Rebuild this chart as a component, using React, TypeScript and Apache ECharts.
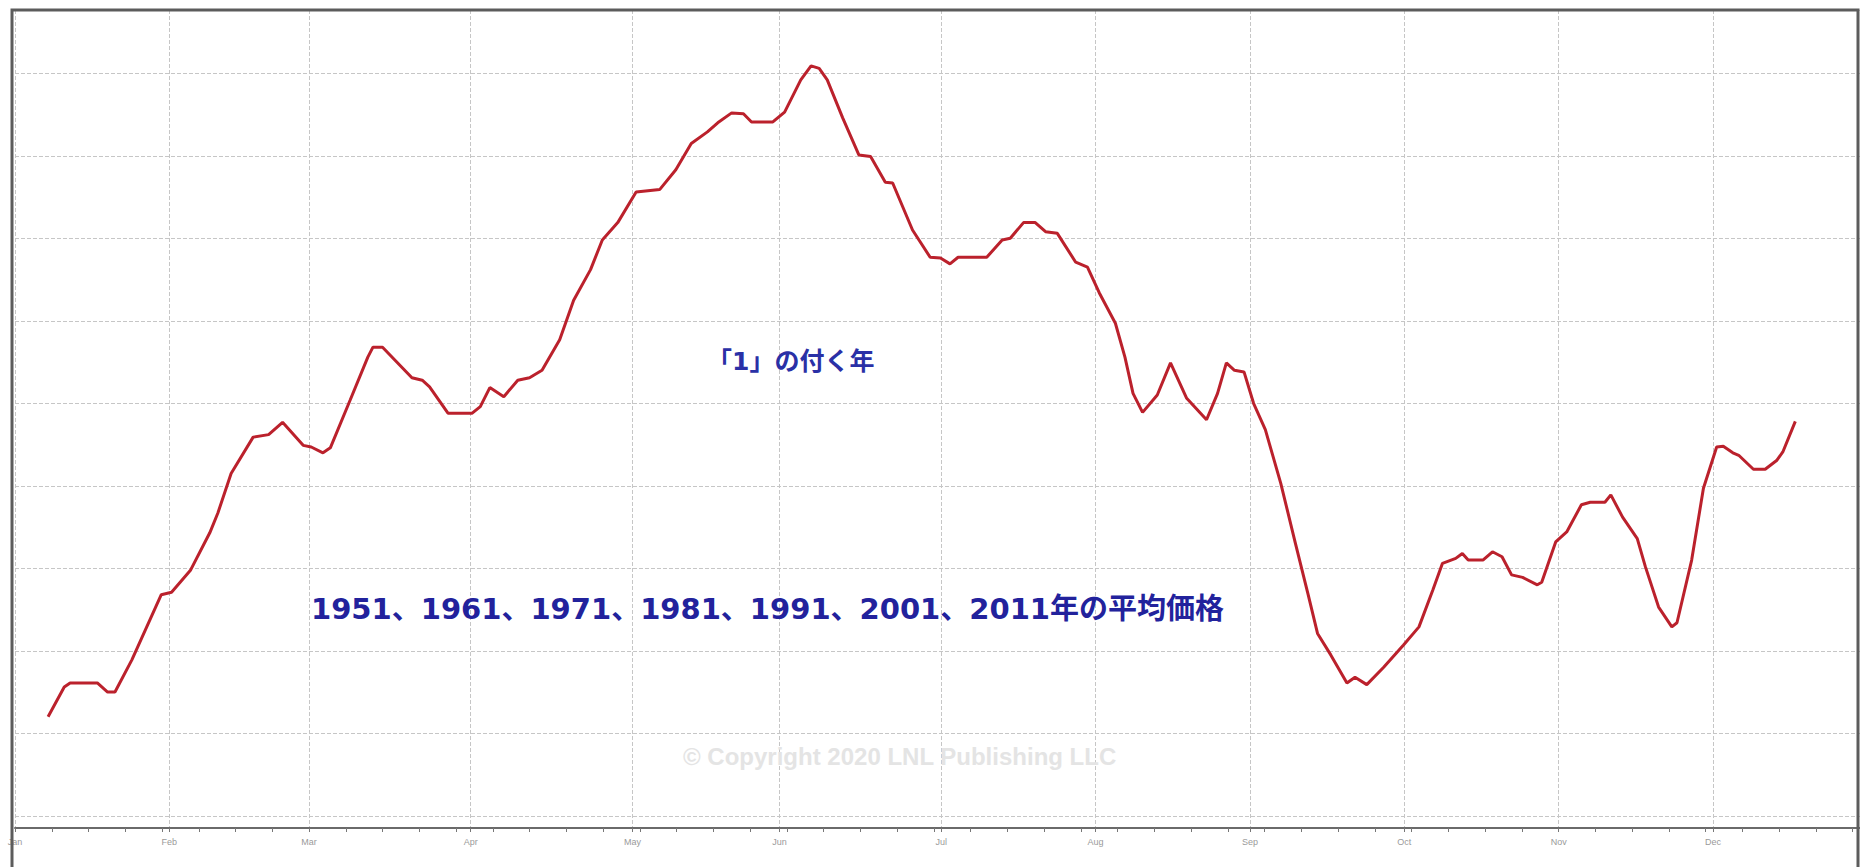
import React, { useEffect, useRef } from "react";
import * as echarts from "echarts";

// Trading-day calendar (0 = first trading day of January)
const TRADING_DAYS = 252;
const monthNames = ["Jan", "Feb", "Mar", "Apr", "May", "Jun", "Jul", "Aug", "Sep", "Oct", "Nov", "Dec"];
const monthStarts = [0, 21, 40, 62, 84, 104, 126, 147, 168, 189, 210, 231];

// Average seasonal path of years ending in "1" (arbitrary index units)
const dayIndex = [
  4.5, 6.7, 7.5, 11.2, 12.6, 13.6, 15.9, 19.9, 21.3, 23.9, 26.5, 27.6, 29.4, 32.4, 34.5, 36.4,
  39.2, 40.3, 41.9, 42.9, 45.6, 48.0, 48.7, 50.0, 54.0, 55.4, 56.4, 58.9, 62.2, 63.3, 64.6, 66.5,
  68.4, 70.0, 71.7, 74.1, 76.0, 78.3, 79.9, 82.0, 84.5, 87.7, 89.9, 92.0, 94.2, 95.6, 97.5, 99.1,
  100.2, 103.1, 104.7, 106.9, 108.3, 109.4, 110.5, 112.6, 114.8, 116.4, 118.4, 119.4, 122.1, 124.5,
  125.9, 127.2, 128.3, 132.2, 134.3, 135.4, 137.2, 138.8, 140.2, 141.8, 144.3, 145.9, 147.5, 149.7,
  151.0, 152.1, 153.4, 155.4, 157.2, 159.4, 162.1, 163.6, 164.8, 165.9, 167.2, 168.5, 170.1, 172.2,
  174.2, 175.9, 177.2, 179.0, 181.2, 182.3, 183.9, 186.2, 188.9, 191.0, 192.9, 194.2, 196.0, 196.9,
  197.7, 199.7, 201.0, 202.3, 203.6, 205.1, 207.1, 207.7, 209.6, 211.1, 213.1, 214.3, 216.3, 217.1,
  218.7, 220.7, 221.8, 223.6, 225.4, 226.1, 228.1, 229.7, 231.5, 232.4, 233.7, 234.5, 236.5, 238.1,
  239.7, 240.5, 242.2,
];
const avgValue = [
  12.0, 15.6, 16.1, 16.1, 15.0, 15.0, 18.9, 26.8, 27.1, 29.8, 34.3, 36.7, 41.5, 45.9, 46.2, 47.7,
  44.9, 44.7, 44.0, 44.6, 50.4, 55.6, 56.8, 56.8, 53.1, 52.8, 52.0, 48.8, 48.8, 49.6, 51.9, 50.8,
  52.8, 53.1, 54.0, 57.7, 62.5, 66.2, 69.8, 71.9, 75.6, 75.9, 78.3, 81.5, 82.9, 84.0, 85.2, 85.1,
  84.1, 84.1, 85.3, 89.2, 90.9, 90.6, 89.2, 84.6, 80.1, 79.9, 76.8, 76.7, 71.0, 67.7,
  67.6, 66.9, 67.7, 67.7, 69.8, 70.0, 71.9, 71.9, 70.8, 70.6, 67.1, 66.5, 63.4, 59.7,
  55.6, 51.2, 48.9, 51.0, 54.9, 50.6, 48.0, 51.2, 54.9, 54.0, 53.8, 50.0, 46.8, 40.3,
  33.0, 26.9, 22.1, 19.5, 16.1, 16.8, 15.9, 18.0, 20.7, 22.9, 27.4, 30.6, 31.2, 31.8,
  31.0, 31.0, 32.0, 31.4, 29.2, 28.9, 28.0, 28.3, 33.2, 34.4, 37.7, 38.0, 38.0, 38.9,
  36.2, 33.6, 30.2, 25.3, 22.9, 23.4, 31.0, 39.7, 44.7, 44.8, 44.0, 43.7, 42.0, 42.0,
  43.1, 44.1, 47.8,
];

const titleText = "「1」の付く年";
const subtitleText = "1951、1961、1971、1981、1991、2001、2011年の平均価格";
const copyrightText = "© Copyright 2020 LNL Publishing LLC";

export default function App() {
  const ref = useRef<HTMLDivElement>(null);

  useEffect(() => {
    if (!ref.current) return;
    const chart = echarts.init(ref.current, undefined, { renderer: "svg" });
    const categories = Array.from({ length: TRADING_DAYS }, (_, i) => String(i));
    const isMonthStart = (i: number) => monthStarts.indexOf(i) >= 0;
    const seriesData = dayIndex.map((d, i) => [d, avgValue[i]]);
    const pxPerDay = 7.476;
    const cjkFont = '"DejaVu Sans", "Noto Sans CJK JP", sans-serif';

    chart.setOption({
      animation: false,
      backgroundColor: "#ffffff",
      grid: {
        left: 15,
        top: 10,
        width: (TRADING_DAYS - 1) * pxPerDay,
        height: 818,
        containLabel: false,
      },
      xAxis: [
        {
          type: "category",
          data: categories,
          boundaryGap: false,
          axisLine: { show: true, onZero: false, lineStyle: { color: "#6a6a6a", width: 2 } },
          axisTick: {
            show: true,
            interval: (i: number) => i % 5 === 0 || isMonthStart(i),
            length: 4,
            lineStyle: { color: "#777", width: 1 },
          },
          axisLabel: {
            show: true,
            interval: (i: number) => isMonthStart(i),
            formatter: (_v: string, i: number) => {
              const k = monthStarts.indexOf(i);
              return k >= 0 ? monthNames[k] : "";
            },
            color: "#9a9a9a",
            fontSize: 9,
            fontFamily: "Liberation Sans",
            margin: 9,
          },
          splitLine: {
            show: true,
            interval: (i: number) => isMonthStart(i),
            lineStyle: { color: "#c6c6c6", width: 1, type: [4, 2] },
          },
        },
        {
          type: "value",
          min: 0,
          max: TRADING_DAYS - 1,
          show: false,
          axisLine: { onZero: false },
          splitLine: { show: false },
        },
      ],
      yAxis: {
        type: "value",
        min: -1.48,
        max: 97.67,
        splitNumber: 10,
        axisLine: { show: false, onZero: false },
        axisTick: { show: false },
        axisLabel: { show: false },
        splitLine: { show: true, lineStyle: { color: "#c6c6c6", width: 1, type: [4, 2] } },
      },
      series: [
        {
          type: "line",
          xAxisIndex: 1,
          data: seriesData,
          showSymbol: false,
          symbol: "none",
          smooth: false,
          lineStyle: { color: "#bb212c", width: 3 },
          z: 5,
        },
      ],
      graphic: [
        {
          type: "rect",
          shape: { x: 12, y: 10, width: 1846, height: 900 },
          style: { fill: "none", stroke: "#5c5c5c", lineWidth: 3 },
          z: 100,
          silent: true,
        },
        {
          type: "text",
          x: 707,
          y: 361,
          style: {
            text: titleText,
            fill: "#2a30a6",
            font: `bold 25px ${cjkFont}`,
            align: "left",
            verticalAlign: "middle",
          },
          z: 50,
        },
        {
          type: "text",
          x: 311,
          y: 609,
          style: {
            text: subtitleText,
            fill: "#22229c",
            font: `bold 29px ${cjkFont}`,
            align: "left",
            verticalAlign: "middle",
          },
          z: 50,
        },
        {
          type: "text",
          x: 683,
          y: 756,
          style: {
            text: copyrightText,
            fill: "#e4e4e4",
            font: 'bold 24px "Liberation Sans", Arial, sans-serif',
            align: "left",
            verticalAlign: "middle",
          },
          z: 1,
        },
      ],
    });

    return () => chart.dispose();
  }, []);

  return (
    <div
      ref={ref}
      style={{ position: "fixed", left: 0, top: 0, width: 1860, height: 867, background: "#fff" }}
    />
  );
}
